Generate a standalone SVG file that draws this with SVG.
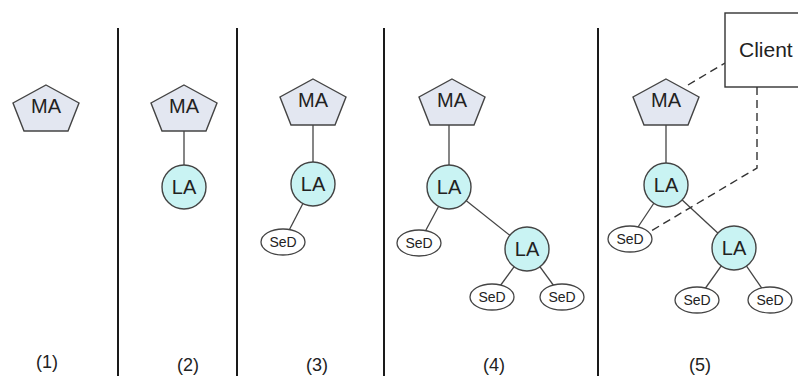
<svg xmlns="http://www.w3.org/2000/svg" width="798" height="376" viewBox="0 0 798 376">
<defs>
<style>
.bg{fill:#ffffff}
.div{stroke:#1a1a1a;stroke-width:2;fill:none}
.ma{fill:#e3e7f1;stroke:#444;stroke-width:1.4}
.la{fill:#c9f3f3;stroke:#444;stroke-width:1.4}
.sed{fill:#ffffff;stroke:#444;stroke-width:1.3}
.edge{stroke:#444;stroke-width:1.3;fill:none}
.dash{stroke:#333;stroke-width:1.4;fill:none;stroke-dasharray:8 5}
.box{fill:#ffffff;stroke:#333;stroke-width:1.4}
text{font-family:"Liberation Sans",Arial,sans-serif;fill:#222;text-anchor:middle}
.t20{font-size:20px}
.t14{font-size:14px}
.lab{font-size:18px}
</style>
<polygon id="pent" points="0,0 33,18 22,46 -22,46 -33,18"/>
</defs>
<rect class="bg" x="0" y="0" width="798" height="376"/>
<g id="dividers">
<line class="div" x1="118" y1="28" x2="118" y2="376"/>
<line class="div" x1="237" y1="28" x2="237" y2="376"/>
<line class="div" x1="384" y1="28" x2="384" y2="376"/>
<line class="div" x1="598" y1="28" x2="598" y2="376"/>
</g>
<g id="connectors">
<line class="edge" x1="184" y1="131" x2="184" y2="187"/>
<line class="edge" x1="313" y1="125" x2="313" y2="184"/>
<line class="edge" x1="313" y1="184" x2="283" y2="242"/>
<line class="edge" x1="449" y1="125" x2="449" y2="187"/>
<line class="edge" x1="449" y1="187" x2="419" y2="243"/>
<line class="edge" x1="449" y1="187" x2="527" y2="249"/>
<line class="edge" x1="527" y1="249" x2="492" y2="297"/>
<line class="edge" x1="527" y1="249" x2="562" y2="297"/>
<line class="edge" x1="666" y1="125" x2="666" y2="185"/>
<line class="edge" x1="666" y1="185" x2="630" y2="239"/>
<line class="edge" x1="666" y1="185" x2="734" y2="248"/>
<line class="edge" x1="734" y1="248" x2="697" y2="300"/>
<line class="edge" x1="734" y1="248" x2="770" y2="300"/>
<line class="dash" x1="688" y1="85" x2="725" y2="63"/>
<polyline class="dash" points="757,87 757,168 651,231"/>
</g>
<g id="ma1"><use href="#pent" class="ma" x="46" y="85"/><text class="t20" x="46" y="113">MA</text></g>
<g id="ma2"><use href="#pent" class="ma" x="184" y="85"/><text class="t20" x="184" y="113">MA</text></g>
<g id="la2"><circle class="la" cx="184" cy="187" r="22"/><text class="t20" x="184" y="194">LA</text></g>
<g id="ma3"><use href="#pent" class="ma" x="313" y="79"/><text class="t20" x="313" y="107">MA</text></g>
<g id="la3"><circle class="la" cx="313" cy="184" r="22"/><text class="t20" x="313" y="191">LA</text></g>
<g id="sed3"><ellipse class="sed" cx="283" cy="242" rx="22" ry="13"/><text class="t14" x="283" y="247">SeD</text></g>
<g id="ma4"><use href="#pent" class="ma" x="452" y="79"/><text class="t20" x="452" y="107">MA</text></g>
<g id="la4a"><circle class="la" cx="449" cy="187" r="22"/><text class="t20" x="449" y="194">LA</text></g>
<g id="sed4a"><ellipse class="sed" cx="419" cy="243" rx="22" ry="13"/><text class="t14" x="419" y="248">SeD</text></g>
<g id="la4b"><circle class="la" cx="527" cy="249" r="22"/><text class="t20" x="527" y="256">LA</text></g>
<g id="sed4b1"><ellipse class="sed" cx="492" cy="297" rx="22" ry="13"/><text class="t14" x="492" y="302">SeD</text></g>
<g id="sed4b2"><ellipse class="sed" cx="562" cy="297" rx="22" ry="13"/><text class="t14" x="562" y="302">SeD</text></g>
<g id="ma5"><use href="#pent" class="ma" x="666" y="79"/><text class="t20" x="666" y="107">MA</text></g>
<g id="la5a"><circle class="la" cx="666" cy="185" r="22"/><text class="t20" x="666" y="192">LA</text></g>
<g id="sed5a"><ellipse class="sed" cx="630" cy="239" rx="22" ry="13"/><text class="t14" x="630" y="244">SeD</text></g>
<g id="la5b"><circle class="la" cx="734" cy="248" r="22"/><text class="t20" x="734" y="255">LA</text></g>
<g id="sed5b1"><ellipse class="sed" cx="697" cy="300" rx="22" ry="13"/><text class="t14" x="697" y="305">SeD</text></g>
<g id="sed5b2"><ellipse class="sed" cx="770" cy="300" rx="22" ry="13"/><text class="t14" x="770" y="305">SeD</text></g>
<g id="client"><rect class="box" x="725" y="13" width="80" height="74"/><text x="739" y="57" style="font-size:21px;text-anchor:start">Client</text></g>
<g id="labels">
<text class="lab" x="47" y="368">(1)</text>
<text class="lab" x="188" y="371">(2)</text>
<text class="lab" x="317" y="371">(3)</text>
<text class="lab" x="494" y="371">(4)</text>
<text class="lab" x="700" y="371">(5)</text>
</g>
</svg>
